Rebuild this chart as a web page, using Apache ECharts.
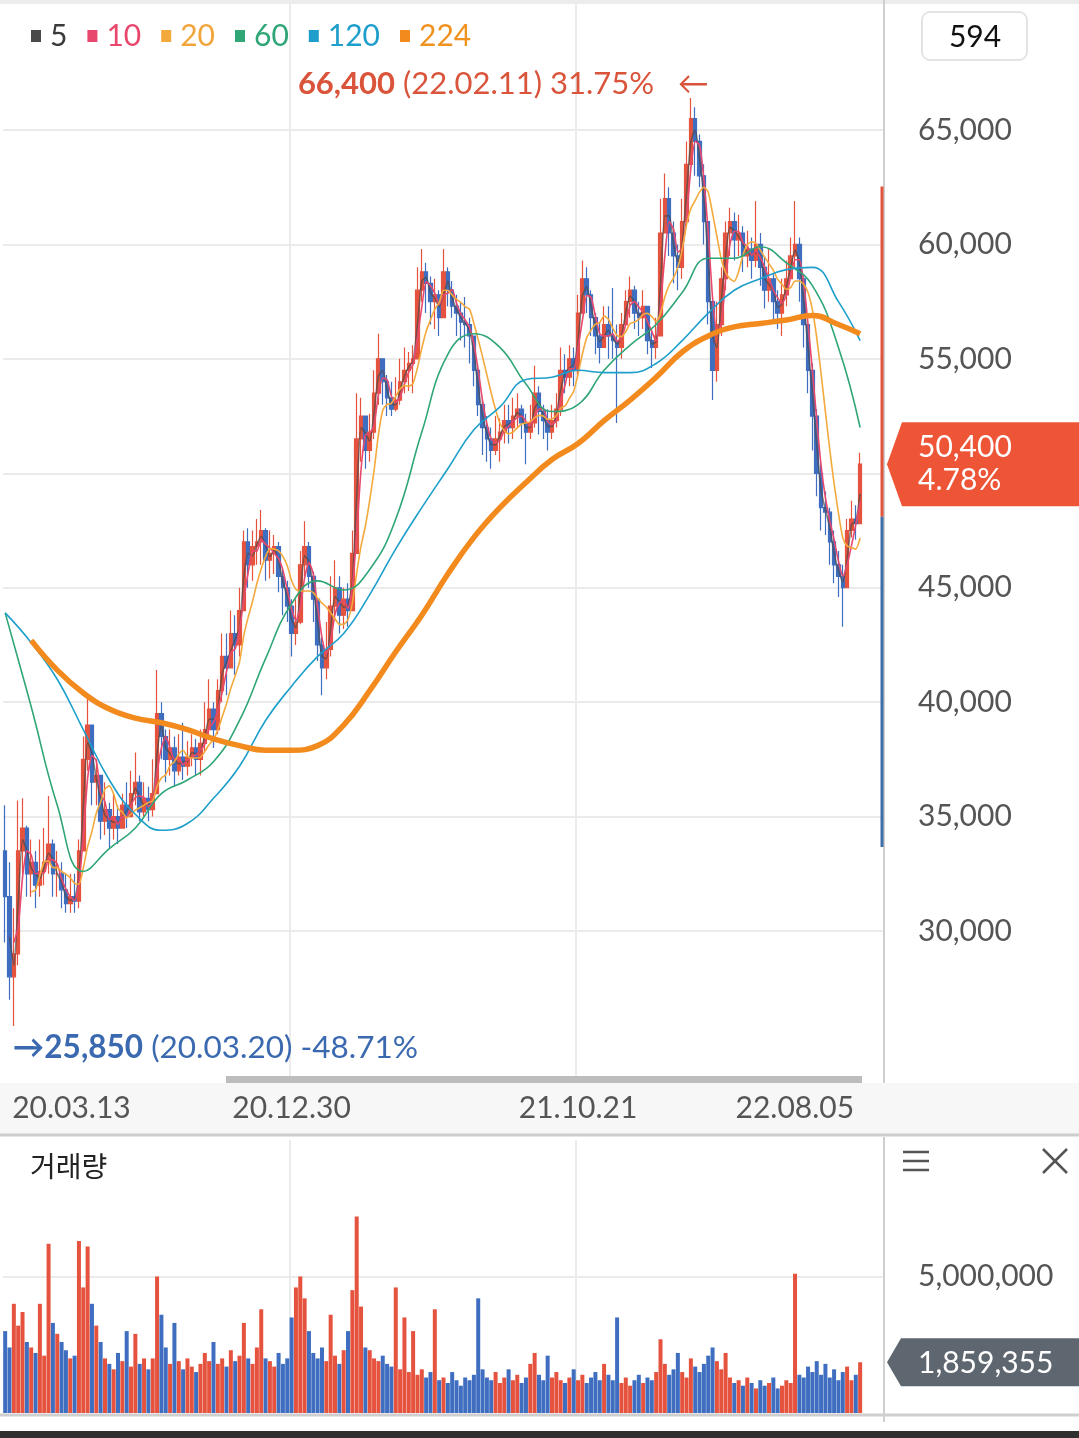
<!DOCTYPE html>
<html><head><meta charset="utf-8">
<script src="https://cdn.jsdelivr.net/npm/echarts@6/dist/echarts.min.js"></script>
<style>html,body{margin:0;padding:0;background:#fff}#c{width:1079px;height:1438px}</style>
</head><body><div id="c"></div>
<script>
// ---- data (prices in thousand won, each point = 3 trading days) ----
const firstOpen = 33.5;
const closes = [
31.5,28.0,29.0,33.5,34.5,32.5,33.0,32.0,32.6,33.0,
33.8,32.5,32.5,31.8,31.2,31.5,31.3,33.5,37.5,39.0,
36.5,36.8,34.8,35.3,34.5,35.0,34.5,35.5,35.0,36.0,
36.5,35.2,35.8,35.3,36.0,39.5,38.5,37.5,38.0,37.0,
37.6,37.2,37.6,38.0,37.5,38.2,38.8,39.7,38.8,40.5,
42.0,41.5,43.0,42.5,44.0,47.0,46.0,46.8,47.0,47.5,
46.2,46.5,46.8,45.5,45.0,44.2,43.0,43.5,46.0,46.8,
45.5,44.5,42.5,41.5,42.3,44.2,45.0,43.8,44.5,44.0,
46.5,51.5,52.5,51.0,51.8,53.5,55.0,54.0,53.3,52.8,
53.2,54.0,54.5,54.8,55.0,58.0,58.8,58.3,57.5,57.8,
56.8,58.8,58.0,57.3,57.0,56.6,56.5,56.0,54.5,53.0,
52.0,51.5,51.0,51.5,51.8,52.3,52.0,52.5,52.8,52.2,
51.8,52.2,53.5,52.7,52.3,51.8,52.3,52.8,54.5,54.2,
55.0,54.5,57.0,58.5,57.8,56.8,56.0,55.5,56.5,56.0,
55.8,55.5,56.5,57.5,58.0,57.0,56.8,57.3,55.8,55.5,
56.0,60.5,62.0,60.5,59.5,59.0,61.0,63.5,65.5,64.5,
63.0,61.0,57.5,54.5,56.5,58.5,60.5,61.0,60.2,60.5,
59.5,59.8,59.3,60.0,59.0,58.0,58.5,57.5,57.0,57.8,
58.5,59.5,60.0,58.5,56.5,54.5,52.5,50.0,48.5,48.3,
47.0,46.0,45.5,45.0,47.5,48.0,47.8,50.4];
const highs = [
35.5,33.0,31.0,35.7,35.8,34.6,34.0,33.5,34.0,34.5,
35.9,34.0,33.5,33.0,32.5,32.5,32.5,34.0,38.5,40.2,
39.0,37.5,36.8,36.5,35.6,36.0,35.5,36.0,36.5,37.0,
37.8,36.8,36.5,36.3,37.5,41.4,40.0,38.8,38.8,38.5,
38.6,39.1,38.3,38.6,38.4,38.8,40.0,41.0,40.0,41.0,
43.0,43.0,44.0,43.8,45.0,47.5,47.6,47.5,48.0,48.4,
47.6,47.5,47.3,47.0,45.8,45.3,44.5,44.5,46.6,47.9,
47.0,45.7,44.5,42.8,43.5,45.5,46.2,45.5,45.0,45.2,
47.5,53.5,53.3,52.5,52.6,54.5,56.1,55.0,54.3,54.0,
54.2,55.0,55.5,55.3,55.6,59.0,59.8,59.2,58.6,58.5,
58.0,59.8,59.0,58.4,57.8,57.5,57.7,56.8,56.0,54.8,
53.2,52.5,52.0,52.5,52.4,53.0,53.0,53.3,53.5,53.0,
52.6,53.0,54.7,53.8,53.0,52.8,53.0,53.5,55.5,55.2,
55.6,55.5,57.8,59.3,59.0,58.0,57.0,56.6,57.3,57.3,
58.1,56.5,57.0,58.0,58.6,58.2,57.5,58.0,57.0,56.3,
56.8,62.0,63.1,62.5,61.0,60.0,62.0,64.5,66.4,66.0,
64.8,63.5,61.0,57.5,57.5,59.0,61.0,61.6,61.4,61.3,
60.8,60.6,60.3,61.9,60.5,59.5,59.8,58.7,58.0,58.5,
59.3,60.3,61.9,60.3,58.6,56.5,54.8,52.8,50.5,49.2,
48.5,47.5,46.6,46.0,48.0,48.8,48.6,50.9];
const lows = [
29.5,27.0,25.85,28.5,32.5,31.5,31.5,31.0,31.5,32.0,
32.5,31.5,31.5,31.0,30.8,30.8,30.8,31.0,33.5,37.0,
35.5,35.5,34.0,34.2,33.6,34.0,33.8,34.5,34.5,35.0,
35.5,34.8,35.0,34.8,35.0,36.5,37.5,36.5,36.8,36.3,
36.8,36.6,36.8,37.2,36.8,36.8,37.8,38.5,38.0,38.6,
40.0,40.3,41.5,41.2,42.0,44.0,45.0,45.3,46.0,46.0,
45.3,45.4,45.6,44.8,43.8,43.5,42.0,42.5,43.4,45.5,
45.0,43.5,41.8,40.3,41.0,42.0,43.8,43.0,43.2,43.3,
44.0,46.5,50.5,50.2,50.5,51.5,53.0,53.0,52.5,52.5,
52.7,53.0,53.5,53.6,53.5,55.0,57.5,57.0,56.5,56.3,
56.0,57.5,57.3,56.8,56.0,55.8,55.5,54.8,53.8,52.5,
50.8,50.5,50.2,50.8,50.5,51.3,51.3,51.5,52.0,51.5,
50.4,51.5,52.0,51.7,51.5,51.0,51.5,52.0,52.5,53.5,
53.8,53.8,54.3,57.5,57.0,56.0,55.2,54.8,55.5,55.0,
55.0,52.2,55.0,56.5,56.8,56.3,56.0,56.3,55.2,54.6,
55.0,56.0,60.5,59.5,58.3,58.0,58.5,61.0,63.5,63.0,
62.5,60.0,56.5,53.2,54.0,56.0,58.0,59.5,59.3,59.5,
58.8,59.0,58.5,59.0,58.2,57.2,57.5,56.6,56.3,56.0,
57.3,58.5,59.0,57.5,55.5,53.5,51.0,49.0,47.5,47.3,
46.0,45.2,44.6,43.3,45.0,47.2,47.1,47.8];
// volume, millions of shares
const volumes = [
3.0,2.4,4.0,3.2,3.7,2.6,2.4,2.2,4.0,2.1,
6.2,3.3,2.9,2.6,2.3,2.0,2.1,6.3,4.6,6.1,
4.0,3.2,2.6,2.0,1.8,1.6,2.2,1.9,3.0,1.7,
2.9,1.8,2.0,1.6,2.0,5.0,3.6,2.4,1.8,3.3,
1.9,1.6,2.0,1.7,1.5,1.8,2.2,1.9,2.6,1.8,
2.0,1.7,2.3,1.9,2.1,3.3,2.0,1.8,2.4,3.8,
2.0,1.9,1.7,2.2,1.8,2.0,3.5,4.6,5.0,4.2,
3.0,2.2,2.0,2.4,1.9,3.6,2.1,1.8,2.3,3.0,
4.5,7.2,3.9,2.4,2.3,2.0,1.9,2.1,1.8,1.7,
4.6,1.6,3.5,1.5,3.0,1.4,1.6,1.3,1.5,3.8,
1.2,1.3,1.1,1.5,1.2,1.0,1.3,1.2,1.4,4.2,
1.6,1.3,1.2,1.5,1.1,1.3,1.6,1.2,1.4,1.1,
1.3,1.8,2.2,1.4,1.2,2.1,1.3,1.5,1.2,1.1,
1.3,1.6,1.2,1.4,1.1,1.3,1.5,1.2,1.8,1.4,
1.2,3.5,1.1,1.3,1.0,1.2,1.4,1.1,1.3,1.2,
1.5,2.7,1.8,1.4,1.6,2.2,1.5,1.3,2.0,1.7,
1.5,1.8,2.1,2.4,1.9,1.6,2.2,1.3,1.1,1.2,
1.0,1.3,1.1,0.9,1.2,1.0,1.1,1.3,0.9,1.0,
1.2,1.1,5.1,1.4,1.3,1.7,1.5,1.9,1.4,1.8,
1.3,1.6,1.2,1.5,1.7,1.2,1.4,1.859355];
// long moving averages at these point indices
const maIdx = [0,6,12,18,24,30,36,42,48,54,60,66,72,78,84,90,96,102,108,114,120,126,132,138,144,150,156,162,168,174,180,186,192,197];
const ma60 = [43.9,39.8,35.5,32.6,33.6,34.5,36.0,36.6,37.4,39.2,41.9,44.3,45.3,44.9,45.8,48.0,51.8,55.2,56.1,55.5,53.9,52.7,53.0,54.5,55.6,56.5,57.9,59.4,59.4,59.9,59.2,58.2,55.5,52.0];
const ma120 = [43.9,42.6,41.0,38.8,36.6,35.1,34.4,34.7,35.8,37.2,39.2,40.7,42.0,43.0,44.7,46.7,48.5,50.2,51.9,52.9,54.1,54.2,54.5,54.4,54.4,54.8,55.8,57.0,58.0,58.5,58.9,59.0,57.5,55.8];
const ma224 = [null,42.7,41.4,40.4,39.7,39.3,39.1,38.8,38.4,38.1,37.9,37.9,38.1,39.0,40.5,42.2,43.8,45.6,47.2,48.5,49.6,50.6,51.3,52.3,53.2,54.2,55.3,56.0,56.4,56.55,56.7,56.9,56.5,56.1];
const tickLabels = ['20.03.13','20.12.30','21.10.21','22.08.05'];
const tickIndex = [0, 66, 132, 197];
const yTicks = [30000,35000,40000,45000,50000,55000,60000,65000];
const maNames = ['5','10','20','60','120','224'];
const shortMaBins = {'5': 2, '10': 3, '20': 7};
const highDate = '22.02.11', lowDate = '20.03.20';
const lastChangePct = 4.78;
const prevClose = 48100;
const priceLimit = 0.30;
const shownDays = 594;

// ---- styles ----
const UP = '#e5533f', DOWN = '#3f6ec0';
const maColors = {'5':'#4a4a4a','10':'#e8486d','20':'#f4a93c','60':'#2fa676','120':'#1e9fcb','224':'#f28a1e'};
const maText = {'5':'#3a3a3a','10':'#e8486d','20':'#f2a53a','60':'#2fa676','120':'#1e9fcb','224':'#f0921f'};
const FONT = 'Lato';
const K = 1000;

const n = closes.length;
const pad = 5;
const cats = Array.from({length: n + pad}, (_, i) => String(i));
const candles = closes.map((c, i) => {
  const o = i === 0 ? firstOpen : closes[i - 1];
  return [o * K, c * K, Math.min(lows[i], o, c) * K, Math.max(highs[i], o, c) * K];
});
function movingAvg(win) {
  return closes.map((_, i) => {
    if (i < win - 1) return '-';
    let s = 0; for (let j = i - win + 1; j <= i; j++) s += closes[j];
    return Math.round(s / win * K);
  });
}
function sparse(arr) {
  return maIdx.map((ix, j) => arr[j] == null ? null : [ix, arr[j] * K]).filter(Boolean);
}
const gridLineIdx = tickIndex.slice(1, -1);

const chart = echarts.init(document.getElementById('c'));
const lineSeries = maNames.map(name => {
  const isShort = shortMaBins[name] != null;
  const src = name === '60' ? ma60 : name === '120' ? ma120 : ma224;
  return {
    name, type: 'line', xAxisIndex: 0, yAxisIndex: 0, z: 4,
    data: isShort ? movingAvg(shortMaBins[name]) : sparse(src),
    showSymbol: false, symbol: 'none', smooth: isShort ? 0.2 : 0.45,
    lineStyle: {color: maColors[name], width: name === '224' ? 5.5 : 1.6, opacity: name === '5' ? 0.7 : 1},
    itemStyle: {color: maColors[name]}, silent: true
  };
});

const option = {
  animation: false,
  backgroundColor: '#ffffff',
  textStyle: {fontFamily: FONT},
  legend: {
    left: 26, top: 16, icon: 'rect', itemWidth: 10, itemHeight: 12, itemGap: 20, selectedMode: false,
    textStyle: {fontSize: 30, fontFamily: FONT, padding: [0, 0, 0, 4]},
    data: maNames.map(nm => ({name: nm, textStyle: {color: maText[nm]}}))
  },
  grid: [
    {left: 3, right: 195, top: 3, bottom: 358},
    {left: 3, right: 195, top: 1140, bottom: 25}
  ],
  xAxis: [0, 1].map(g => ({
    type: 'category', gridIndex: g, data: cats, boundaryGap: true,
    axisLine: {show: false}, axisTick: {show: false}, axisLabel: {show: false},
    splitLine: {show: true, interval: (i) => gridLineIdx.includes(i), lineStyle: {color: '#ebebeb', width: 2}}
  })),
  yAxis: [
    {type: 'value', gridIndex: 0, position: 'right', min: 23490, max: 70550, minInterval: 5000, maxInterval: 5000,
     axisLine: {show: false}, axisTick: {show: false}, splitLine: {show: false},
     axisLabel: {margin: 34, fontSize: 30, color: '#555', fontFamily: FONT,
       formatter: v => yTicks.includes(v) ? v.toLocaleString('en-US') : ''}},
    {type: 'value', gridIndex: 1, position: 'right', min: 0, max: 10000000, interval: 5000000,
     axisLine: {show: false}, axisTick: {show: false},
     splitLine: {show: true, lineStyle: {color: ['rgba(0,0,0,0)', '#ebebeb', 'rgba(0,0,0,0)'], width: 2}},
     axisLabel: {margin: 34, fontSize: 30, color: '#555', fontFamily: FONT,
       formatter: v => v === 5000000 ? v.toLocaleString('en-US') : ''}}
  ],
  series: [
    {name: 'grid', type: 'line', xAxisIndex: 0, yAxisIndex: 0, data: [], z: 1, silent: true,
     markLine: {silent: true, z: 1, symbol: ['none', 'none'], label: {show: false},
       lineStyle: {color: '#ebebeb', width: 2, type: 'solid'}, emphasis: {disabled: true},
       data: yTicks.map(v => ({yAxis: v}))}},
    {name: 'price', type: 'candlestick', xAxisIndex: 0, yAxisIndex: 0, z: 3, data: candles, barWidth: 4, barMaxWidth: 4,
     itemStyle: {color: UP, color0: DOWN, borderColor: UP, borderColor0: DOWN, borderWidth: 1.2}},
    ...lineSeries,
    {name: 'volume', type: 'bar', xAxisIndex: 1, yAxisIndex: 1, barWidth: 4,
     data: volumes.map((v, i) => ({value: Math.round(v * 1e6),
       itemStyle: {color: candles[i][1] >= candles[i][0] ? UP : DOWN}}))}
  ]
};
chart.setOption(option);

// ---- annotations placed through the chart's own scales ----
const px = i => chart.convertToPixel({xAxisIndex: 0}, i);
const py = v => chart.convertToPixel({yAxisIndex: 0}, v);
const vy = v => chart.convertToPixel({yAxisIndex: 1}, v);
const lastClose = closes[n - 1] * K;
let maxI = 0, minI = 0;
highs.forEach((h, i) => { if (h > highs[maxI]) maxI = i; });
lows.forEach((l, i) => { if (l < lows[minI]) minI = i; });
const maxHigh = highs[maxI] * K, minLow = lows[minI] * K;
const fmt = v => Math.round(v).toLocaleString('en-US');
const pct = v => ((v - lastClose) / lastClose * 100).toFixed(2) + '%';
const RIGHT_X = 884;

const mctx = document.createElement('canvas').getContext('2d');
mctx.font = '30px ' + FONT;
const xLo = px(0) + 7, xHi = px(n - 1) - 6;
const dateLabels = tickLabels.map((t, k) => {
  const w = mctx.measureText(t).width;
  let cx = px(tickIndex[k]);
  cx = Math.max(xLo + w / 2, Math.min(xHi - w / 2, cx));
  return {type: 'text', z: 20, style: {text: t, x: cx, y: 1108, textAlign: 'center', textVerticalAlign: 'middle',
    font: '30px ' + FONT, fill: '#555'}};
});

const yPrice = py(lastClose);
const yVol = vy(volumes[n - 1] * 1e6);
const upLimit = prevClose * (1 + priceLimit), lowLimit = prevClose * (1 - priceLimit);

const graphics = [
  {type: 'rect', z: 20, shape: {x: 0, y: 0, width: 1079, height: 4}, style: {fill: '#ececec'}},
  {type: 'line', z: 20, shape: {x1: RIGHT_X, y1: 0, x2: RIGHT_X, y2: 1083}, style: {stroke: '#cfcfcf', lineWidth: 2}},
  {type: 'rect', z: 19, shape: {x: 0, y: 1083, width: 1079, height: 51}, style: {fill: '#f7f7f7'}},
  {type: 'rect', z: 20, shape: {x: 226, y: 1076, width: 636, height: 7}, style: {fill: '#bdbdbd'}},
  {type: 'line', z: 20, shape: {x1: 0, y1: 1135, x2: 1079, y2: 1135}, style: {stroke: '#cdcdcd', lineWidth: 3}},
  ...dateLabels,
  {type: 'line', z: 20, shape: {x1: RIGHT_X, y1: 1137, x2: RIGHT_X, y2: 1422}, style: {stroke: '#cfcfcf', lineWidth: 2}},
  {type: 'line', z: 20, shape: {x1: 0, y1: 1415, x2: 1079, y2: 1415}, style: {stroke: '#cfcfcf', lineWidth: 3}},
  {type: 'rect', z: 20, shape: {x: 0, y: 1431, width: 1079, height: 7}, style: {fill: '#2f2f2f'}},
  {type: 'text', z: 20, style: {text: '거래량', x: 30, y: 1166, textVerticalAlign: 'middle',
    font: '28px "Noto Sans CJK KR"', fill: '#222'}},
  // menu and close icons
  {type: 'line', z: 20, shape: {x1: 903, y1: 1152, x2: 929, y2: 1152}, style: {stroke: '#555', lineWidth: 2.5}},
  {type: 'line', z: 20, shape: {x1: 903, y1: 1161, x2: 929, y2: 1161}, style: {stroke: '#555', lineWidth: 2.5}},
  {type: 'line', z: 20, shape: {x1: 903, y1: 1170, x2: 929, y2: 1170}, style: {stroke: '#555', lineWidth: 2.5}},
  {type: 'line', z: 20, shape: {x1: 1043, y1: 1149, x2: 1067, y2: 1173}, style: {stroke: '#555', lineWidth: 2.5}},
  {type: 'line', z: 20, shape: {x1: 1067, y1: 1149, x2: 1043, y2: 1173}, style: {stroke: '#555', lineWidth: 2.5}},
  // day count box
  {type: 'rect', z: 20, shape: {x: 922, y: 12, width: 105, height: 48, r: 8}, style: {fill: '#fff', stroke: '#e4e4e4', lineWidth: 2}},
  {type: 'text', z: 21, style: {text: String(shownDays), x: 975, y: 37, textAlign: 'center', textVerticalAlign: 'middle',
    font: '30px ' + FONT, fill: '#111'}},
  // price limit bar
  {type: 'line', z: 21, shape: {x1: 882, y1: py(upLimit), x2: 882, y2: py(prevClose)}, style: {stroke: '#e2553c', lineWidth: 3}},
  {type: 'line', z: 21, shape: {x1: 882, y1: py(prevClose), x2: 882, y2: py(lowLimit)}, style: {stroke: '#3f6fa8', lineWidth: 3}},
  // current price tag
  {type: 'polygon', z: 21, shape: {points: [[887, yPrice], [902, yPrice - 42], [1079, yPrice - 42], [1079, yPrice + 42], [902, yPrice + 42]]},
    style: {fill: '#ee5536'}},
  {type: 'text', z: 22, style: {text: fmt(lastClose) + '\n' + lastChangePct.toFixed(2) + '%', x: 918, y: yPrice,
    textVerticalAlign: 'middle', font: '30px ' + FONT, lineHeight: 33, fill: '#fff'}},
  // current volume tag
  {type: 'polygon', z: 21, shape: {points: [[887, yVol], [901, yVol - 24], [1079, yVol - 24], [1079, yVol + 24], [901, yVol + 24]]},
    style: {fill: '#5e6670'}},
  {type: 'text', z: 22, style: {text: fmt(volumes[n - 1] * 1e6), x: 918, y: yVol + 1, textVerticalAlign: 'middle',
    font: '30px ' + FONT, fill: '#fff'}},
  // high / low annotations
  {type: 'text', z: 22, style: {
    text: '{b|' + fmt(maxHigh) + '}{n| (' + highDate + ') ' + pct(maxHigh) + '   ←}',
    x: px(maxI) + 18, y: py(maxHigh) - 14, textAlign: 'right', textVerticalAlign: 'middle',
    rich: {b: {fontSize: 31, fontWeight: 'bold', fontFamily: FONT, fill: '#d9543a'},
           n: {fontSize: 31, fontFamily: FONT, fill: '#d9543a'}}}},
  {type: 'text', z: 22, style: {
    text: '{b|→' + fmt(minLow) + '}{n| (' + lowDate + ') ' + pct(minLow) + '}',
    x: px(minI) - 1, y: py(minLow) + 22, textAlign: 'left', textVerticalAlign: 'middle',
    rich: {b: {fontSize: 31.5, fontWeight: 'bold', fontFamily: FONT, fill: '#3b69b0'},
           n: {fontSize: 31.5, fontFamily: FONT, fill: '#3b69b0'}}}}
];
chart.setOption({graphic: graphics});
</script></body></html>
